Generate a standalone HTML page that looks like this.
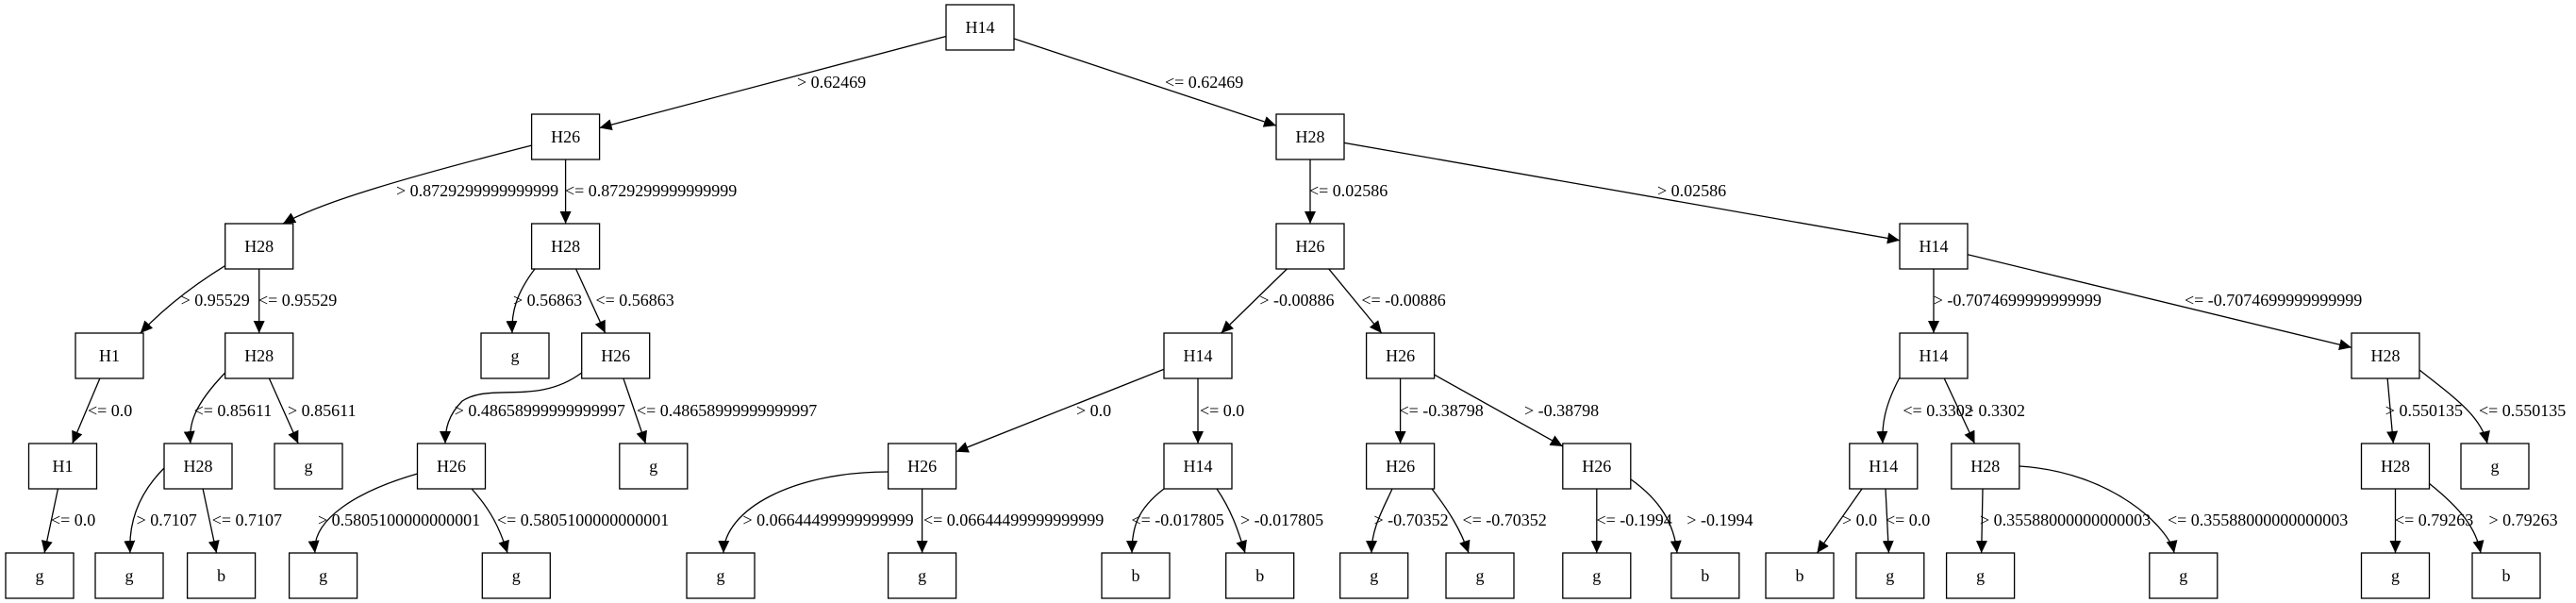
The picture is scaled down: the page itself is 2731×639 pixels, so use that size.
<!DOCTYPE html>
<html><head><meta charset="utf-8"><style>
html,body{margin:0;padding:0;background:#fff;}
svg{display:block;}
text{font-family:"Liberation Serif",serif;font-size:18px;fill:#000;}
</style></head><body>
<svg width="2731" height="639" viewBox="0 0 2731 639" xmlns="http://www.w3.org/2000/svg">
<defs>
<marker id="a" markerUnits="userSpaceOnUse" markerWidth="14" markerHeight="12" refX="13" refY="6" orient="auto">
<path d="M0,0 L13,6 L0,12 Z" fill="#000"/>
</marker>
</defs>
<g stroke="#000" stroke-width="1.3" fill="none" marker-end="url(#a)">
<line x1="1039" y1="29" x2="635.6" y2="135.5"/>
<line x1="1039" y1="29" x2="1353" y2="133.1"/>
<path d="M599.6,145 C420,190 340,215 300,237"/>
<line x1="599.6" y1="145" x2="599.6" y2="237"/>
<line x1="1389" y1="145" x2="1389" y2="237"/>
<line x1="1389" y1="145" x2="2014" y2="254.7"/>
<path d="M274.7,261 C220,290 180,320 148.8,353"/>
<line x1="274.7" y1="261" x2="274.7" y2="353"/>
<path d="M567,285 C548,310 542,330 543,353"/>
<line x1="599.6" y1="261" x2="641.7" y2="353"/>
<line x1="1389" y1="261" x2="1294.6" y2="353"/>
<line x1="1389" y1="261" x2="1464.8" y2="353"/>
<line x1="2050" y1="261" x2="2050" y2="353"/>
<line x1="2050" y1="261" x2="2493" y2="368.3"/>
<line x1="116" y1="377" x2="76.7" y2="470"/>
<path d="M238.7,395 C205,430 200,450 202,470"/>
<line x1="274.7" y1="377" x2="316.2" y2="470"/>
<path d="M616.7,395 C570,430 520,405 490,425 C475,440 472,455 472,470"/>
<line x1="652.7" y1="377" x2="684.5" y2="470"/>
<line x1="1270" y1="377" x2="1013.6" y2="478.7"/>
<line x1="1270" y1="377" x2="1270" y2="470"/>
<line x1="1484.6" y1="377" x2="1484.6" y2="470"/>
<line x1="1484.6" y1="377" x2="1656.8" y2="473"/>
<path d="M2014,400 C1998,430 1995,450 1996,470"/>
<line x1="2050" y1="377" x2="2093.5" y2="470"/>
<line x1="2529" y1="377" x2="2537.3" y2="470"/>
<path d="M2565,392 C2600,420 2630,440 2637,470"/>
<line x1="66.5" y1="494" x2="47.1" y2="586"/>
<path d="M174,496 C150,520 136,550 138,586"/>
<line x1="210" y1="494" x2="229.5" y2="586"/>
<path d="M442.5,502 C380,520 330,550 334,586"/>
<path d="M500,518 C520,540 530,560 538,586"/>
<path d="M941.6,500 C840,500 768,540 767,586"/>
<line x1="977.6" y1="494" x2="977.6" y2="586"/>
<path d="M1234,518 C1205,540 1200,560 1200,586"/>
<path d="M1290,518 C1305,540 1312,560 1320,586"/>
<path d="M1476,518 C1466,540 1454,560 1454,586"/>
<path d="M1518,518 C1535,540 1548,560 1557,586"/>
<line x1="1692.8" y1="494" x2="1692.8" y2="586"/>
<path d="M1729,508 C1760,530 1775,555 1778,586"/>
<line x1="1974" y1="518" x2="1926.4" y2="586"/>
<line x1="1999" y1="518" x2="2002.4" y2="586"/>
<line x1="2102" y1="518" x2="2100.7" y2="586"/>
<path d="M2140.8,494 C2240,500 2300,560 2305,586"/>
<line x1="2539.5" y1="494" x2="2539.5" y2="586"/>
<path d="M2575,512 C2610,540 2625,560 2630,586"/>
</g>
<g stroke="#000" stroke-width="1.3" fill="#fff">
<rect x="1003" y="5" width="72" height="48"/>
<rect x="563.6" y="121" width="72" height="48"/>
<rect x="1353" y="121" width="72" height="48"/>
<rect x="238.7" y="237" width="72" height="48"/>
<rect x="563.6" y="237" width="72" height="48"/>
<rect x="1353" y="237" width="72" height="48"/>
<rect x="2014" y="237" width="72" height="48"/>
<rect x="80" y="353" width="72" height="48"/>
<rect x="238.7" y="353" width="72" height="48"/>
<rect x="510" y="353" width="72" height="48"/>
<rect x="616.7" y="353" width="72" height="48"/>
<rect x="1234" y="353" width="72" height="48"/>
<rect x="1448.6" y="353" width="72" height="48"/>
<rect x="2014" y="353" width="72" height="48"/>
<rect x="2493" y="353" width="72" height="48"/>
<rect x="30.5" y="470" width="72" height="48"/>
<rect x="174" y="470" width="72" height="48"/>
<rect x="291" y="470" width="72" height="48"/>
<rect x="442.5" y="470" width="72" height="48"/>
<rect x="656.8" y="470" width="72" height="48"/>
<rect x="941.6" y="470" width="72" height="48"/>
<rect x="1234" y="470" width="72" height="48"/>
<rect x="1448.6" y="470" width="72" height="48"/>
<rect x="1656.8" y="470" width="72" height="48"/>
<rect x="1960.8" y="470" width="72" height="48"/>
<rect x="2068.8" y="470" width="72" height="48"/>
<rect x="2503.5" y="470" width="72" height="48"/>
<rect x="2609" y="470" width="72" height="48"/>
<rect x="6" y="586" width="72" height="48"/>
<rect x="101" y="586" width="72" height="48"/>
<rect x="198.6" y="586" width="72" height="48"/>
<rect x="306.6" y="586" width="72" height="48"/>
<rect x="511.3" y="586" width="72" height="48"/>
<rect x="728" y="586" width="72" height="48"/>
<rect x="941.6" y="586" width="72" height="48"/>
<rect x="1168" y="586" width="72" height="48"/>
<rect x="1299.7" y="586" width="72" height="48"/>
<rect x="1420.7" y="586" width="72" height="48"/>
<rect x="1533" y="586" width="72" height="48"/>
<rect x="1656.8" y="586" width="72" height="48"/>
<rect x="1771.8" y="586" width="72" height="48"/>
<rect x="1872" y="586" width="72" height="48"/>
<rect x="1967.8" y="586" width="72" height="48"/>
<rect x="2063.6" y="586" width="72" height="48"/>
<rect x="2278.8" y="586" width="72" height="48"/>
<rect x="2503.5" y="586" width="72" height="48"/>
<rect x="2621" y="586" width="72" height="48"/>
</g>
<g text-anchor="middle">
<text x="1039" y="35">H14</text>
<text x="599.6" y="151">H26</text>
<text x="1389" y="151">H28</text>
<text x="274.7" y="267">H28</text>
<text x="599.6" y="267">H28</text>
<text x="1389" y="267">H26</text>
<text x="2050" y="267">H14</text>
<text x="116" y="383">H1</text>
<text x="274.7" y="383">H28</text>
<text x="546" y="383">g</text>
<text x="652.7" y="383">H26</text>
<text x="1270" y="383">H14</text>
<text x="1484.6" y="383">H26</text>
<text x="2050" y="383">H14</text>
<text x="2529" y="383">H28</text>
<text x="66.5" y="500">H1</text>
<text x="210" y="500">H28</text>
<text x="327" y="500">g</text>
<text x="478.5" y="500">H26</text>
<text x="692.8" y="500">g</text>
<text x="977.6" y="500">H26</text>
<text x="1270" y="500">H14</text>
<text x="1484.6" y="500">H26</text>
<text x="1692.8" y="500">H26</text>
<text x="1996.8" y="500">H14</text>
<text x="2104.8" y="500">H28</text>
<text x="2539.5" y="500">H28</text>
<text x="2645" y="500">g</text>
<text x="42" y="616">g</text>
<text x="137" y="616">g</text>
<text x="234.6" y="616">b</text>
<text x="342.6" y="616">g</text>
<text x="547.3" y="616">g</text>
<text x="764" y="616">g</text>
<text x="977.6" y="616">g</text>
<text x="1204" y="616">b</text>
<text x="1335.7" y="616">b</text>
<text x="1456.7" y="616">g</text>
<text x="1569" y="616">g</text>
<text x="1692.8" y="616">g</text>
<text x="1807.8" y="616">b</text>
<text x="1908" y="616">b</text>
<text x="2003.8" y="616">g</text>
<text x="2099.6" y="616">g</text>
<text x="2314.8" y="616">g</text>
<text x="2539.5" y="616">g</text>
<text x="2657" y="616">b</text>
</g>
<g>
<text x="845" y="93">&gt; 0.62469</text>
<text x="1235" y="93">&lt;= 0.62469</text>
<text x="420" y="208">&gt; 0.8729299999999999</text>
<text x="599" y="208">&lt;= 0.8729299999999999</text>
<text x="1388" y="208">&lt;= 0.02586</text>
<text x="1757" y="208">&gt; 0.02586</text>
<text x="191.6" y="324">&gt; 0.95529</text>
<text x="274" y="324">&lt;= 0.95529</text>
<text x="544" y="324">&gt; 0.56863</text>
<text x="631.5" y="324">&lt;= 0.56863</text>
<text x="1335.4" y="324">&gt; -0.00886</text>
<text x="1443.4" y="324">&lt;= -0.00886</text>
<text x="2049.7" y="324">&gt; -0.7074699999999999</text>
<text x="2316" y="324">&lt;= -0.7074699999999999</text>
<text x="93" y="441">&lt;= 0.0</text>
<text x="205.6" y="441">&lt;= 0.85611</text>
<text x="305" y="441">&gt; 0.85611</text>
<text x="481.7" y="441">&gt; 0.48658999999999997</text>
<text x="675" y="441">&lt;= 0.48658999999999997</text>
<text x="1141" y="441">&gt; 0.0</text>
<text x="1272" y="441">&lt;= 0.0</text>
<text x="1483.5" y="441">&lt;= -0.38798</text>
<text x="1616" y="441">&gt; -0.38798</text>
<text x="2017.4" y="441">&lt;= 0.3302</text>
<text x="2082.8" y="441">&gt; 0.3302</text>
<text x="2528.8" y="441">&gt; 0.550135</text>
<text x="2628" y="441">&lt;= 0.550135</text>
<text x="54" y="557">&lt;= 0.0</text>
<text x="144.6" y="557">&gt; 0.7107</text>
<text x="224.7" y="557">&lt;= 0.7107</text>
<text x="337" y="557">&gt; 0.5805100000000001</text>
<text x="527" y="557">&lt;= 0.5805100000000001</text>
<text x="787.5" y="557">&gt; 0.06644499999999999</text>
<text x="979" y="557">&lt;= 0.06644499999999999</text>
<text x="1199.5" y="557">&lt;= -0.017805</text>
<text x="1315" y="557">&gt; -0.017805</text>
<text x="1456.5" y="557">&gt; -0.70352</text>
<text x="1550.5" y="557">&lt;= -0.70352</text>
<text x="1692.5" y="557">&lt;= -0.1994</text>
<text x="1788.3" y="557">&gt; -0.1994</text>
<text x="1953" y="557">&gt; 0.0</text>
<text x="1999" y="557">&lt;= 0.0</text>
<text x="2099" y="557">&gt; 0.35588000000000003</text>
<text x="2298" y="557">&lt;= 0.35588000000000003</text>
<text x="2539" y="557">&lt;= 0.79263</text>
<text x="2638.5" y="557">&gt; 0.79263</text>
</g>
</svg>
</body></html>
